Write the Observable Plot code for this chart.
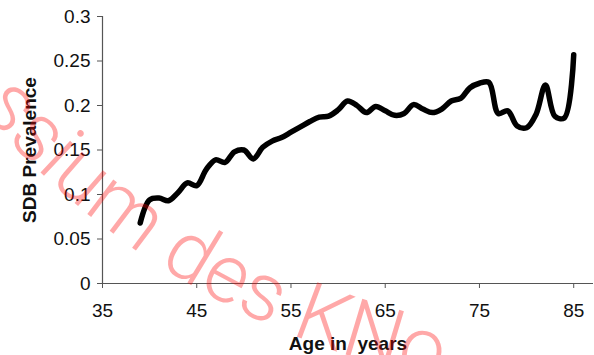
<!DOCTYPE html>
<html>
<head>
<meta charset="utf-8">
<script src="https://cdn.jsdelivr.net/npm/d3@7"></script>
<script src="https://cdn.jsdelivr.net/npm/@observablehq/plot@0.6"></script>
<style>
  html, body { margin: 0; padding: 0; background: #fff; }
  svg { display: block; }
</style>
</head>
<body>
<div id="chart"></div>
<script>
// Sleep-disordered breathing prevalence by age (years)
const ages = [39, 40, 41, 42, 43, 44, 45, 46, 47, 48, 49, 50, 51, 52, 53, 54, 55, 56, 57, 58, 59, 60,
              61, 62, 63, 64, 65, 66, 67, 68, 69, 70, 71, 72, 73, 74, 75, 76, 77, 78, 79, 80, 81, 82, 83, 84, 85];
const prevalence = [0.068, 0.094, 0.096, 0.093, 0.102, 0.113, 0.110, 0.128, 0.139, 0.136, 0.148, 0.150,
                    0.140, 0.153, 0.160, 0.164, 0.170, 0.176, 0.182, 0.187, 0.188, 0.195, 0.205, 0.200,
                    0.192, 0.199, 0.194, 0.189, 0.191, 0.201, 0.196, 0.192, 0.196, 0.205, 0.208, 0.220,
                    0.225, 0.226, 0.191, 0.194, 0.177, 0.175, 0.190, 0.223, 0.188, 0.186, 0.257];

const xTicks = [35, 45, 55, 65, 75, 85];
const yTicks = [0, 0.05, 0.1, 0.15, 0.2, 0.25, 0.3];
const yTickLabels = ["0", "0.05", "0.1", "0.15", "0.2", "0.25", "0.3"];
const xLabel = "Age in\u00a0 years";
const yLabel = "SDB Prevalence";
const watermark = "ssium des KNo";

const data = ages.map((a, i) => ({age: a, p: prevalence[i]}));
const font = "'Liberation Sans', Arial, Helvetica, sans-serif";

const chart = Plot.plot({
  width: 594,
  height: 355,
  marginLeft: 102,
  marginRight: 1,
  marginTop: 16,
  marginBottom: 72,
  style: {fontFamily: font, fontSize: "19px", color: "#111", background: "#fff"},
  x: {domain: [35, 87.1]},
  y: {domain: [0, 0.3]},
  marks: [
    Plot.ruleY([0], {stroke: "#555", strokeWidth: 1.2}),
    Plot.ruleX([35], {stroke: "#555", strokeWidth: 1.2}),
    Plot.axisY({
      ticks: yTicks,
      tickFormat: d => yTickLabels[yTicks.indexOf(d)],
      tickSize: 5,
      tickPadding: 7,
      label: null,
      stroke: "#555",
      fill: "#111",
      fontSize: 19
    }),
    Plot.axisX({
      ticks: xTicks,
      tickFormat: d => String(d),
      tickSize: 5,
      tickPadding: 15,
      label: null,
      stroke: "#555",
      fill: "#111",
      fontSize: 19
    }),
    Plot.line(data, {
      x: "age",
      y: "p",
      curve: "catmull-rom",
      stroke: "#000",
      strokeWidth: 5.5,
      strokeLinecap: "round",
      strokeLinejoin: "round"
    }),
    Plot.text([xLabel], {
      text: d => d,
      frameAnchor: "bottom",
      dy: 66,
      lineAnchor: "bottom",
      fontWeight: "bold",
      fontSize: 19,
      fill: "#111"
    }),
    Plot.text([yLabel], {
      text: d => d,
      frameAnchor: "left",
      textAnchor: "middle",
      rotate: -90,
      dx: -67,
      lineAnchor: "bottom",
      fontWeight: "bold",
      fontSize: 19,
      fill: "#111"
    })
  ]
});

// faint stamp text set along a wide circular arc
const svg = d3.select(chart);
svg.append("defs").append("path")
  .attr("id", "stamp-arc")
  .attr("d", "M -29 98 A 815 815 0 0 0 529 392");
svg.append("text")
  .attr("text-anchor", "start")
  .attr("font-family", "Roboto, 'Liberation Sans', sans-serif")
  .attr("font-weight", 300)
  .attr("font-size", 82)
  .attr("fill", "#ff0000")
  .attr("fill-opacity", 0.34)
  .append("textPath")
  .attr("href", "#stamp-arc")
  .attr("startOffset", 12)
  .text(watermark);

document.getElementById("chart").appendChild(chart);
</script>
</body>
</html>
